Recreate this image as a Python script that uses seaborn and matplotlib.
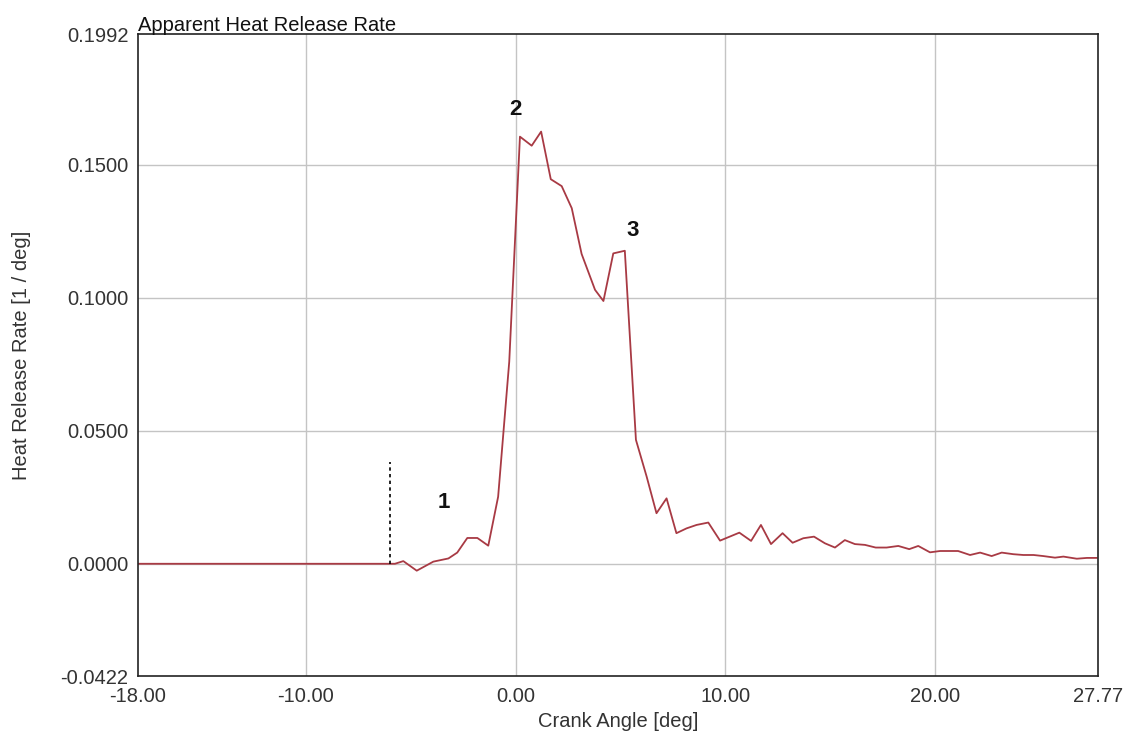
"Apparent Heat Release Rate"

import pandas as pd
import matplotlib
matplotlib.use("Agg")
import matplotlib.pyplot as plt
import seaborn as sns

# values
crank_angle = [-18.0, -6.0, -5.75, -5.35, -4.71, -3.92, -3.2, -2.78, -2.3, -1.82, -1.30,
               -0.83, -0.30, 0.21, 0.77, 1.22, 1.68, 2.20, 2.68, 3.15, 3.79, 4.19,
               4.66, 5.21, 5.74, 6.25, 6.72, 7.20, 7.67, 8.15, 8.63, 9.19, 9.75,
               10.67, 11.23, 11.70, 12.18, 12.73, 13.21, 13.72, 14.23, 14.75, 15.23,
               15.70, 16.18, 16.66, 17.17, 17.69, 18.25, 18.77, 19.20, 19.76, 20.24,
               21.10, 21.67, 22.15, 22.70, 23.18, 23.73, 24.21, 24.70, 25.16, 25.72,
               26.12, 26.76, 27.24, 27.72]
heat_release = [0.0, 0.0, 0.0, 0.0010, -0.0026, 0.0008, 0.0020, 0.0042, 0.0097, 0.0097, 0.0068,
                0.0252, 0.0760, 0.1606, 0.1572, 0.1625, 0.1446, 0.1420, 0.1337, 0.1165, 0.1030, 0.0988,
                0.1167, 0.1177, 0.0466, 0.0328, 0.0190, 0.0246, 0.0115, 0.0133, 0.0146, 0.0155, 0.0087,
                0.0117, 0.0086, 0.0146, 0.0074, 0.0115, 0.0079, 0.0096, 0.0102, 0.0077, 0.0061,
                0.0089, 0.0074, 0.0071, 0.0061, 0.0061, 0.0067, 0.0055, 0.0067, 0.0043, 0.0048,
                0.0048, 0.0033, 0.0042, 0.0029, 0.0042, 0.0036, 0.0033, 0.0033, 0.0029, 0.0023,
                0.0027, 0.0019, 0.0022, 0.0022]

x_ticks = [-18.0, -10.0, 0.0, 10.0, 20.0, 27.77]
y_ticks = [-0.0422, 0.0, 0.05, 0.10, 0.15, 0.1992]

marker_angle = -6.0
marker_top = 0.0384

point_labels = ["1", "2", "3"]
point_x = [-3.4, 0.0, 5.6]
point_y = [0.0232, 0.1708, 0.1252]

df = pd.DataFrame({"Crank Angle": crank_angle, "HRR": heat_release})

sns.set_style("white")
plt.rcParams["font.family"] = ["Liberation Sans", "DejaVu Sans"]

fig = plt.figure(figsize=(11.3, 7.4), dpi=100)
ax = fig.add_axes([138 / 1130, 1 - 676 / 740, 960 / 1130, 642 / 740])

sns.lineplot(data=df, x="Crank Angle", y="HRR", ax=ax, color="#a83a44",
             linewidth=1.3, sort=False, estimator=None)
ax.plot([marker_angle, marker_angle], [0, marker_top], color="black",
        linestyle=(0, (2, 2)), linewidth=1.2)

for lbl, px, py in zip(point_labels, point_x, point_y):
    ax.text(px, py, lbl, fontsize=16, fontweight="bold", ha="center", va="center",
            color="#111111")

ax.set_xlim(x_ticks[0], x_ticks[-1])
ax.set_ylim(y_ticks[0], y_ticks[-1])
ax.set_xticks(x_ticks)
ax.set_xticklabels([f"{v:.2f}" for v in x_ticks])
ax.set_yticks(y_ticks)
ax.set_yticklabels([f"{v:.4f}" for v in y_ticks])
ax.tick_params(length=0, labelsize=14.5, colors="#333333")
ax.tick_params(axis="x", pad=8)
ax.tick_params(axis="y", pad=7)

for v in x_ticks[1:-1]:
    ax.axvline(v, color="#c4c4c4", linewidth=1, zorder=0)
for v in y_ticks[1:-1]:
    ax.axhline(v, color="#c4c4c4", linewidth=1, zorder=0)

for s in ax.spines.values():
    s.set_color("#222222")
    s.set_linewidth(1.2)

ax.set_title("Apparent Heat Release Rate", loc="left", fontsize=14.5, pad=2, color="#111111")
ax.set_xlabel("Crank Angle [deg]", fontsize=14.5, color="#333333", labelpad=4)
ax.set_ylabel("Heat Release Rate [1 / deg]", fontsize=14.5, color="#333333", labelpad=21)

fig.savefig("out.png", dpi=100)
